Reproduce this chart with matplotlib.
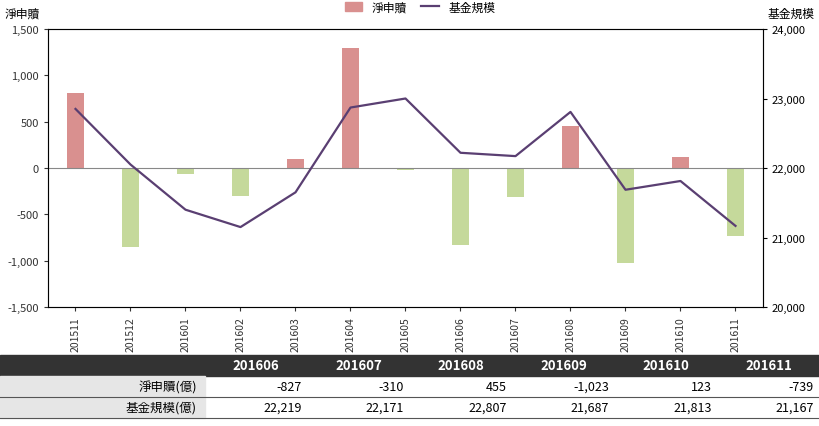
import matplotlib
matplotlib.use("Agg")
import matplotlib.pyplot as plt
import numpy as np
from matplotlib.patches import Rectangle, Patch
from matplotlib.lines import Line2D

plt.rcParams['font.family'] = ['Noto Sans CJK TC', 'Noto Sans CJK JP', 'Noto Sans CJK SC', 'DejaVu Sans']

months = ["201511","201512","201601","201602","201603","201604","201605",
          "201606","201607","201608","201609","201610","201611"]
net_flow = [810, -850, -60, -300, 100, 1290, -20, -827, -310, 455, -1023, 123, -739]
fund_size = [22850, 22050, 21400, 21150, 21650, 22870, 23000, 22219, 22171, 22807, 21687, 21813, 21167]

tbl_months = ["201606","201607","201608","201609","201610","201611"]
tbl_flow = ["-827","-310","455","-1,023","123","-739"]
tbl_size = ["22,219","22,171","22,807","21,687","21,813","21,167"]
row_labels = ["淨申贖(億)", "基金規模(億)"]

W, H = 820, 427
fig = plt.figure(figsize=(W/100, H/100), dpi=100)
ax = fig.add_axes([48/W, 1-308/H, (763-48)/W, (308-30)/H])
x = np.arange(len(months))
colors = ['#d9908f' if v >= 0 else '#c5d99b' for v in net_flow]
ax.bar(x, net_flow, width=0.3, color=colors, zorder=2)
ax.set_ylim(-1500, 1500)
ax.set_yticks(range(-1500, 1501, 500))
ax.set_yticklabels([f"{v:,}" for v in range(-1500, 1501, 500)], fontsize=8)
ax.set_xlim(-0.5, len(months)-0.5)
ax.set_xticks(x)
ax.set_xticklabels(months, rotation=90, fontsize=7.5)
ax.axhline(0, color='#888888', lw=0.8)
for s in ax.spines.values():
    s.set_color('#888888')
ax.tick_params(colors='#333333', length=3)
ax2 = ax.twinx()
ax2.plot(x, fund_size, color='#5a3f72', lw=1.6, zorder=3)
ax2.set_ylim(20000, 24000)
ax2.set_yticks(range(20000, 24001, 1000))
ax2.set_yticklabels([f"{v:,}" for v in range(20000, 24001, 1000)], fontsize=8)
ax2.tick_params(length=3)
fig.text(5/W, 1-14/H, "淨申贖", fontsize=8.5, va='center')
fig.text(815/W, 1-14/H, "基金規模", fontsize=8.5, va='center', ha='right')
fig.legend([Patch(color='#d9908f'), Line2D([], [], color='#5a3f72', lw=1.6)],
           ["淨申贖", "基金規模"], loc='center', bbox_to_anchor=(420/W, 1-8/H),
           ncol=2, frameon=False, fontsize=8.5, handlelength=1.5, columnspacing=1.2)

tax = fig.add_axes([0, 0, 1, 1])
tax.set_xlim(0, W); tax.set_ylim(H, 0); tax.axis('off')
y0, rh = 356, 21
col0 = 205
cw = (W - col0) / 6
tax.add_patch(Rectangle((0, y0), W, rh, color='#333333'))
for i, m in enumerate(tbl_months):
    tax.text(col0 + cw*(i+0.5), y0+rh/2, m, color='white', fontsize=9.5, weight='bold', ha='center', va='center')
for r, (lab, vals) in enumerate(zip(row_labels, [tbl_flow, tbl_size])):
    yy = y0 + rh*(r+1)
    tax.add_patch(Rectangle((0, yy), col0, rh, color='#e6e6e6'))
    tax.text(col0-8, yy+rh/2, lab, fontsize=9, ha='right', va='center')
    for i, v in enumerate(vals):
        tax.text(col0 + cw*(i+1) - 6, yy+rh/2, v, fontsize=9, ha='right', va='center')
    tax.plot([0, W], [yy+rh, yy+rh], color='#555555', lw=0.8)
fig.savefig("out.png", dpi=100)
